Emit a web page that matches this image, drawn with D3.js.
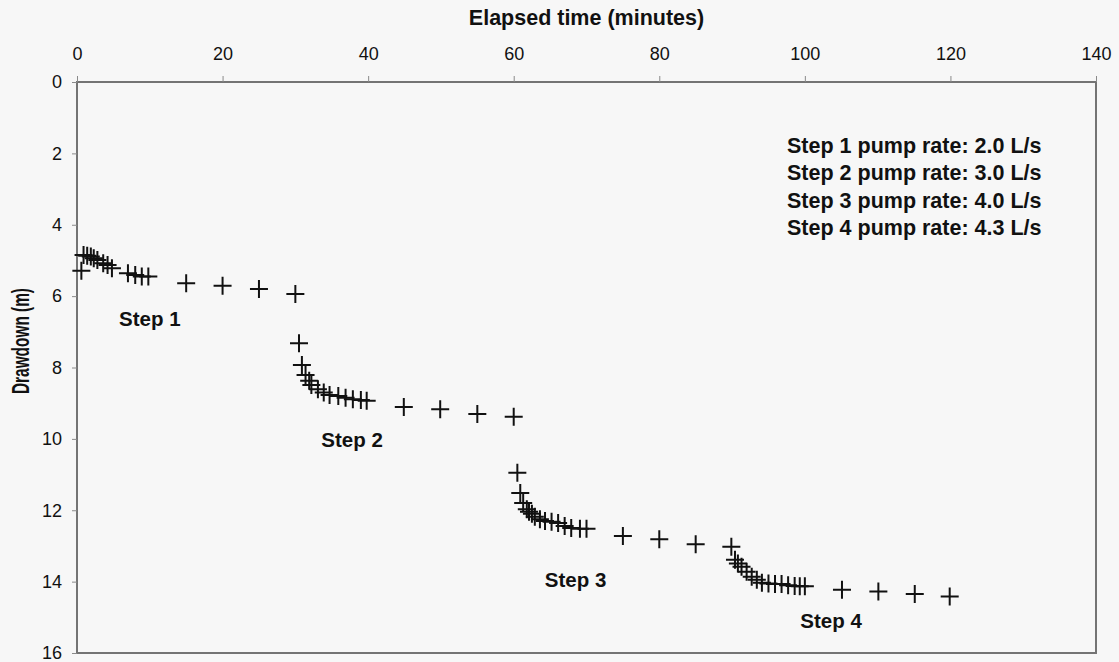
<!DOCTYPE html>
<html>
<head>
<meta charset="utf-8">
<script src="https://cdn.jsdelivr.net/npm/d3@7/dist/d3.min.js"></script>
<style>
  body { margin: 0; background: #f7f7f7; }
  svg { display: block; font-family: "Liberation Sans", Arial, sans-serif; }
</style>
</head>
<body>
<div id="chart"></div>
<script>
//---------------------------data---------------------------
var step1Time = [0.6, 0.9, 1.4, 1.9, 2.3, 2.8, 3.6, 4.2, 4.8, 7.0, 8.0, 8.9, 9.8, 15, 20, 25, 30];
var step1Drawdown = [5.29, 4.85, 4.87, 4.89, 4.94, 4.99, 5.08, 5.13, 5.22, 5.36, 5.41, 5.45, 5.45, 5.64, 5.71, 5.8, 5.94];

var step2Time = [30.5, 30.9, 31.4, 31.9, 32.2, 33.1, 33.9, 34.7, 35.9, 36.9, 37.9, 39.0, 39.8, 44.9, 49.9, 55, 60];
var step2Drawdown = [7.32, 7.93, 8.21, 8.37, 8.49, 8.61, 8.70, 8.77, 8.80, 8.85, 8.89, 8.91, 8.93, 9.11, 9.17, 9.3, 9.38];

var step3Time = [60.5, 60.9, 61.3, 61.8, 62.1, 62.5, 62.9, 63.6, 64.3, 65.2, 66.1, 67.0, 67.9, 69.1, 70.0, 75.0, 80.0, 85.0, 89.9];
var step3Drawdown = [10.95, 11.52, 11.80, 11.97, 12.04, 12.10, 12.18, 12.25, 12.30, 12.32, 12.36, 12.44, 12.50, 12.52, 12.52, 12.72, 12.81, 12.95, 13.02];

var step4Time = [90.4, 90.8, 91.3, 92.0, 92.7, 93.4, 94.1, 95.0, 95.9, 96.8, 97.7, 98.6, 99.3, 100.0, 105.1, 110.1, 115.1, 119.9];
var step4Drawdown = [13.39, 13.49, 13.58, 13.72, 13.86, 13.95, 14.03, 14.05, 14.07, 14.07, 14.10, 14.12, 14.13, 14.13, 14.23, 14.28, 14.35, 14.42];

var xTicks = [0, 20, 40, 60, 80, 100, 120, 140];
var yTicks = [0, 2, 4, 6, 8, 10, 12, 14, 16];

var stepNames = ["Step 1", "Step 2", "Step 3", "Step 4"];
var stepLabelTime = [10.0, 37.8, 68.5, 103.6];
var stepLabelDrawdown = [6.84, 10.23, 14.15, 15.3];
var pumpRates = ["2.0", "3.0", "4.0", "4.3"];

//---------------------------layout--------------------------------------------------------
var width = 1119, height = 662;
var margin = { top: 82, right: 23, bottom: 9, left: 77 };

var svg = d3.select("#chart").append("svg")
  .attr("width", width)
  .attr("height", height);

svg.append("rect")
  .attr("width", width)
  .attr("height", height)
  .attr("fill", "#f7f7f7");

var x = d3.scaleLinear().domain([0, 140]).range([margin.left, width - margin.right]);
var y = d3.scaleLinear().domain([0, 16]).range([margin.top, height - margin.bottom]);

//plot frame
svg.append("rect")
  .attr("x", x(0))
  .attr("y", y(0))
  .attr("width", x(140) - x(0))
  .attr("height", y(16) - y(0))
  .attr("fill", "none")
  .attr("stroke", "#747474")
  .attr("stroke-width", 2);

//---------------------------axes----------------------------------------------------------
var xAxis = svg.append("g")
  .attr("transform", "translate(0," + y(0) + ")")
  .call(d3.axisTop(x).tickValues(xTicks).tickSize(6).tickPadding(16));
xAxis.select(".domain").remove();
xAxis.selectAll(".tick line").attr("stroke", "#8a8a8a");
xAxis.selectAll(".tick text")
  .attr("fill", "#111")
  .style("font-size", "18px")
  .style("font-family", "Liberation Sans, Arial, sans-serif");

var yAxis = svg.append("g")
  .attr("transform", "translate(" + x(0) + ",0)")
  .call(d3.axisLeft(y).tickValues(yTicks).tickSize(5).tickPadding(10));
yAxis.select(".domain").remove();
yAxis.selectAll(".tick line").attr("stroke", "#8a8a8a");
yAxis.selectAll(".tick text")
  .attr("fill", "#111")
  .style("font-size", "18px")
  .style("font-family", "Liberation Sans, Arial, sans-serif");

svg.append("text")
  .attr("x", (x(0) + x(140)) / 2)
  .attr("y", 25)
  .attr("text-anchor", "middle")
  .style("font-size", "21.5px")
  .style("font-weight", "bold")
  .attr("fill", "#111")
  .text("Elapsed time (minutes)");

svg.append("text")
  .attr("transform", "translate(29,341) rotate(-90)")
  .attr("text-anchor", "middle")
  .attr("textLength", 106)
  .attr("lengthAdjust", "spacingAndGlyphs")
  .style("font-size", "23px")
  .style("font-weight", "bold")
  .attr("fill", "#111")
  .text("Drawdown (m)");

//---------------------------points (plus markers)-----------------------------------------
var steps = [
  { t: step1Time, d: step1Drawdown },
  { t: step2Time, d: step2Drawdown },
  { t: step3Time, d: step3Drawdown },
  { t: step4Time, d: step4Drawdown }
];

var points = [];
steps.forEach(function(s) {
  s.t.forEach(function(t, i) {
    points.push({ t: t, d: s.d[i] });
  });
});

var half = 9;
svg.append("g").selectAll("path")
  .data(points).enter()
  .append("path")
  .attr("d", function(p) {
    var px = x(p.t), py = y(p.d);
    return "M" + (px - half) + "," + py + "H" + (px + half) +
      "M" + px + "," + (py - half) + "V" + (py + half);
  })
  .attr("stroke", "#111")
  .attr("stroke-width", 2)
  .attr("fill", "none");

//---------------------------step labels and pump rates------------------------------------
svg.append("g").selectAll("text")
  .data(stepNames).enter()
  .append("text")
  .attr("x", function(d, i) { return x(stepLabelTime[i]); })
  .attr("y", function(d, i) { return y(stepLabelDrawdown[i]); })
  .attr("text-anchor", "middle")
  .style("font-size", "20.5px")
  .style("font-weight", "bold")
  .attr("fill", "#111")
  .text(function(d) { return d; });

svg.append("g").selectAll("text")
  .data(pumpRates).enter()
  .append("text")
  .attr("x", 787)
  .attr("y", function(d, i) { return 153 + i * 27.3; })
  .style("font-size", "21.5px")
  .style("font-weight", "bold")
  .attr("fill", "#111")
  .text(function(d, i) { return stepNames[i] + " pump rate: " + d + " L/s"; });
</script>
</body>
</html>
